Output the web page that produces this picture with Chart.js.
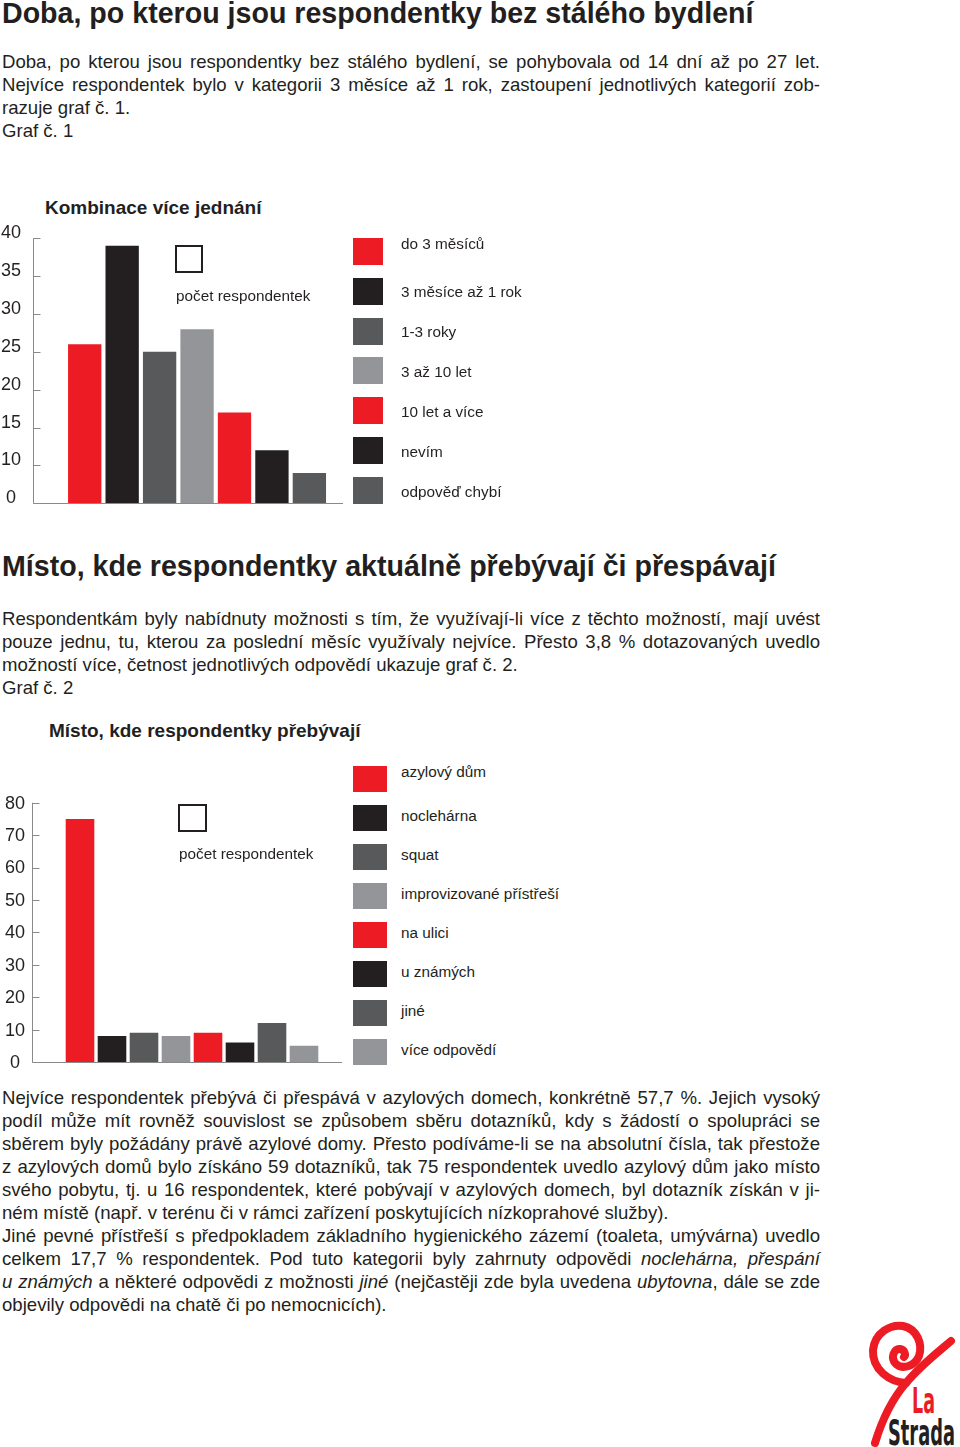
<!DOCTYPE html>
<html lang="cs">
<head>
<meta charset="utf-8">
<title>Doba, po kterou jsou respondentky bez stálého bydlení</title>
<script src="https://cdn.jsdelivr.net/npm/chart.js@4.4.1/dist/chart.umd.min.js"></script>
<style>
  body { margin: 0; background: #fff; }
  #page { position: relative; width: 960px; height: 1447px; overflow: hidden;
          font-family: "Liberation Sans", Arial, sans-serif; color: #231f20; }
  h1 { position: absolute; left: 2px; margin: 0; font-size: 28.6px; line-height: 32px; white-space: nowrap; }
  .para { position: absolute; left: 2px; width: 818px; font-size: 18.6px; line-height: 23px; }
  .para div { white-space: nowrap; }
  .para .j { text-align: justify; text-align-last: justify; }
  .ctitle { position: absolute; font-size: 19px; font-weight: bold; line-height: 22px; white-space: nowrap; }
  .box { position: absolute; border: 2px solid #231f20; box-sizing: border-box; }
  .note, .leg-label { position: absolute; font-size: 15.3px; line-height: 18px; white-space: nowrap; }
  .swatch, .chart { position: absolute; }
</style>
</head>
<body>
<div id="page">
  <h1 style="top:-3px">Doba, po kterou jsou respondentky bez stálého bydlení</h1>
  <div class="para" style="top:50.4px">
    <div class="j">Doba, po kterou jsou respondentky bez stálého bydlení, se pohybovala od 14 dní až po 27 let.</div>
    <div class="j">Nejvíce respondentek bylo v kategorii 3 měsíce až 1 rok, zastoupení jednotlivých kategorií zob-</div>
    <div>razuje graf č. 1.</div>
    <div>Graf č. 1</div>
  </div>

  <div class="ctitle" style="left:45px; top:197.4px">Kombinace více jednání</div>
  <div class="chart" style="left:0; top:220px; width:350px; height:295px"><canvas id="chart1"></canvas></div>
  <div class="box" style="left:175px; top:245px; width:28px; height:28px"></div>
  <div class="note" style="left:176px; top:286.7px">počet respondentek</div>

  <h1 style="top:550.1px">Místo, kde respondentky aktuálně přebývají či přespávají</h1>
  <div class="para" style="top:607.1px">
    <div class="j">Respondentkám byly nabídnuty možnosti s tím, že využívají-li více z těchto možností, mají uvést</div>
    <div class="j">pouze jednu, tu, kterou za poslední měsíc využívaly nejvíce. Přesto 3,8 % dotazovaných uvedlo</div>
    <div>možností více, četnost jednotlivých odpovědí ukazuje graf č. 2.</div>
    <div>Graf č. 2</div>
  </div>

  <div class="ctitle" style="left:49px; top:720.4px">Místo, kde respondentky přebývají</div>
  <div class="chart" style="left:0; top:780px; width:350px; height:294px"><canvas id="chart2"></canvas></div>
  <div class="box" style="left:178px; top:804px; width:29px; height:28px"></div>
  <div class="note" style="left:179px; top:845px">počet respondentek</div>

  <div class="para" style="top:1086.4px">
    <div class="j">Nejvíce respondentek přebývá či přespává v azylových domech, konkrétně 57,7 %. Jejich vysoký</div>
    <div class="j">podíl může mít rovněž souvislost se způsobem sběru dotazníků, kdy s žádostí o spolupráci se</div>
    <div class="j">sběrem byly požádány právě azylové domy. Přesto podíváme-li se na absolutní čísla, tak přestože</div>
    <div class="j">z azylových domů bylo získáno 59 dotazníků, tak 75 respondentek uvedlo azylový dům jako místo</div>
    <div class="j">svého pobytu, tj. u 16 respondentek, které pobývají v azylových domech, byl dotazník získán v ji-</div>
    <div>ném místě (např. v terénu či v rámci zařízení poskytujících nízkoprahové služby).</div>
    <div class="j">Jiné pevné přístřeší s předpokladem základního hygienického zázemí (toaleta, umývárna) uvedlo</div>
    <div class="j">celkem 17,7 % respondentek. Pod tuto kategorii byly zahrnuty odpovědi <i>noclehárna, přespání</i></div>
    <div class="j"><i>u známých</i> a některé odpovědi z možnosti <i>jiné</i> (nejčastěji zde byla uvedena <i>ubytovna</i>, dále se zde</div>
    <div>objevily odpovědi na chatě či po nemocnicích).</div>
  </div>

  <svg style="position:absolute; left:860px; top:1320px" width="100" height="127" viewBox="0 0 100 127">
    <g fill="none" stroke="#ed1c24" stroke-width="8" stroke-linecap="round" stroke-linejoin="round">
      <path d="M15,123 C22,100 33,78 46,63 C60,46 78,32 91,21"/>
      <path d="M46,63 C30,62 12,50 13,30 C15,12 31,4 43,6 C57,9 63,24 59,36 C55,46 43,50 36,44 C30,38 34,28 40,29 C45,30 46,35 44,37"/>
    </g>
    <text x="52" y="92.7" font-family="DejaVu Sans" font-weight="bold" font-size="35" fill="#ed1c24"
          textLength="23" lengthAdjust="spacingAndGlyphs">La</text>
    <text x="28" y="124.5" font-family="DejaVu Sans" font-weight="bold" font-size="36" fill="#231f20"
          textLength="67" lengthAdjust="spacingAndGlyphs">Strada</text>
  </svg>
</div>

<script>
const RED = "#ed1c24";
const BLACK = "#231f20";
const DARK = "#58595b";
const LIGHT = "#939598";

// Graf č. 1
const durationLabels = ["do 3 měsíců", "3 měsíce až 1 rok", "1-3 roky", "3 až 10 let", "10 let a více", "nevím", "odpověď chybí"];
const durationValues = [26, 39, 25, 28, 17, 12, 9];
const durationColors = [RED, BLACK, DARK, LIGHT, RED, BLACK, DARK];
const durationTicks = ["0", "10", "15", "20", "25", "30", "35", "40"];

// Graf č. 2
const placeLabels = ["azylový dům", "noclehárna", "squat", "improvizované přístřeší", "na ulici", "u známých", "jiné", "více odpovědí"];
const placeValues = [75, 8, 9, 8, 9, 6, 12, 5];
const placeColors = [RED, BLACK, DARK, LIGHT, RED, BLACK, DARK, LIGHT];
const placeTicks = ["0", "10", "20", "30", "40", "50", "60", "70", "80"];

// thin grey axis with short ticks pointing into the plot, like the print original
const axisFrame = {
  id: "axisFrame",
  afterDatasetsDraw(chart, args, opts) {
    const { ctx, scales: { y } } = chart;
    const top = y.getPixelForValue(y.max);
    const bottom = Math.round(y.getPixelForValue(y.min)) + 0.5;
    const x = opts.x + 0.5;
    ctx.save();
    ctx.strokeStyle = opts.color;
    ctx.lineWidth = 1;
    ctx.beginPath();
    ctx.moveTo(x, top);
    ctx.lineTo(x, bottom);
    ctx.lineTo(opts.end, bottom);
    y.ticks.forEach((t) => {
      const py = Math.round(y.getPixelForValue(t.value)) + 0.5;
      ctx.moveTo(x, py);
      ctx.lineTo(x + opts.tick, py);
    });
    ctx.stroke();
    ctx.restore();
  },
};

function makeChart(id, labels, values, colors, tickText, o) {
  return new Chart(document.getElementById(id), {
    type: "bar",
    data: {
      labels,
      datasets: [{
        data: values,
        backgroundColor: colors,
        borderWidth: 0,
        categoryPercentage: 1,
        barPercentage: o.barPct,
      }],
    },
    options: {
      responsive: true,
      maintainAspectRatio: false,
      animation: false,
      devicePixelRatio: 1,
      layout: { padding: { top: o.top, right: o.right, bottom: o.bottom, left: 0 } },
      plugins: {
        legend: { display: false },
        tooltip: { enabled: false },
        axisFrame: { x: o.axisX, end: o.axisEnd, tick: 7, color: "#8a8a8a" },
      },
      scales: {
        x: { display: false },
        y: {
          min: o.min,
          max: o.max,
          grid: { display: false, drawTicks: false },
          border: { display: false },
          // fixed gutter; the big tick padding only serves to push labels left
          afterFit: (s) => {
            s.width = o.areaLeft;
            s.paddingTop = 0;
            s.paddingBottom = 0;
          },
          ticks: {
            stepSize: o.step,
            crossAlign: "center",
            padding: o.pad,
            labelOffset: o.labelOffset,
            color: BLACK,
            font: { family: "Liberation Sans", size: 18 },
            callback: (v, i) => tickText[i],
          },
        },
      },
    },
    plugins: [axisFrame],
  });
}

function buildLegend(labels, colors, o) {
  const page = document.getElementById("page");
  labels.forEach((label, i) => {
    const top = o.top + i * o.pitch;
    const sw = document.createElement("div");
    sw.className = "swatch";
    Object.assign(sw.style, {
      left: o.left + "px", top: top + "px",
      width: o.w + "px", height: o.h + "px", background: colors[i],
    });
    page.appendChild(sw);

    const txt = document.createElement("div");
    txt.className = "leg-label";
    txt.textContent = label;
    const base = top + o.base + (i === 0 ? o.firstShift : 0);
    txt.style.left = "401px";
    txt.style.top = (base - 14.3) + "px";
    page.appendChild(txt);
  });
}

makeChart("chart1", durationLabels, durationValues, durationColors, durationTicks, {
  min: 5, max: 40, step: 5,
  top: 18.3, bottom: 11.7, right: 21.9, areaLeft: 66,
  axisX: 33, axisEnd: 343, pad: 45, labelOffset: -5, barPct: 0.89,
});
makeChart("chart2", placeLabels, placeValues, placeColors, placeTicks, {
  min: 0, max: 80, step: 10,
  top: 22.7, bottom: 12, right: 30, areaLeft: 64,
  axisX: 32, axisEnd: 342, pad: 39, labelOffset: 1, barPct: 0.894,
});

buildLegend(durationLabels, durationColors, { left: 353, top: 237.7, pitch: 39.9, w: 30, h: 27, base: 20, firstShift: -8 });
buildLegend(placeLabels, placeColors, { left: 353, top: 765.7, pitch: 39.0, w: 34, h: 26, base: 16.5, firstShift: -5 });
</script>
</body>
</html>
